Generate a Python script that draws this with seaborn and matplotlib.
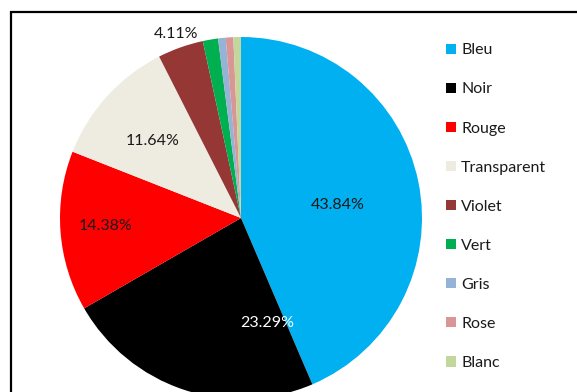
import numpy as np
import matplotlib
matplotlib.use("Agg")
import matplotlib.pyplot as plt
from matplotlib.patches import Rectangle
import seaborn as sns

# Share of each colour (percent)
categories = ["Bleu", "Noir", "Rouge", "Transparent", "Violet", "Vert", "Gris", "Rose", "Blanc"]
shares = [43.84, 23.29, 14.38, 11.64, 4.11, 1.37, 0.68, 0.68, 0.68]
labelled = [True, True, True, True, True, False, False, False, False]
colors = ["#00B0F0", "#000000", "#FF0000", "#EEECE1", "#953735",
          "#00B050", "#95B3D7", "#D99694", "#C3D69B"]
label_colors = ["#1a1a1a", "white", "#1a1a1a", "#1a1a1a", "#1a1a1a"]

# Label placement for each labelled slice: (radius fraction, angle in degrees)
label_pos = [(0.54, 7.7), (0.60, -76.0), (0.75, -176.6), (0.65, 139.0), (1.08, 109.4)]

sns.set_theme(style="white")
plt.rcParams["font.family"] = ["Lato", "DejaVu Sans"]

W, H = 577, 392
fig = plt.figure(figsize=(W / 100, H / 100), dpi=100)
fig.patch.set_facecolor("white")

cx, cy, r = 241, 392 - 218, 181
ax = fig.add_axes([(cx - r) / W, (cy - r) / H, 2 * r / W, 2 * r / H])
palette = sns.color_palette(colors)
wedges, _ = ax.pie(shares, colors=palette, startangle=90, counterclock=False,
                   radius=1.0, wedgeprops=dict(linewidth=0))
ax.set_xlim(-1, 1)
ax.set_ylim(-1, 1)
ax.set_aspect("auto")
ax.axis("off")

k = 0
for val, show in zip(shares, labelled):
    if not show:
        continue
    rad, ang = label_pos[k]
    a = np.deg2rad(ang)
    ax.text(rad * np.cos(a), rad * np.sin(a), f"{val:.2f}%", ha="center", va="center",
            fontsize=11.5, color=label_colors[k], clip_on=False)
    k += 1

leg = fig.legend(wedges, categories, loc="upper left",
                 bbox_to_anchor=(440 / W, 1 - 37 / H), frameon=False,
                 fontsize=11.5, handlelength=0.62, handleheight=0.62,
                 handletextpad=0.3, labelspacing=1.57, borderaxespad=0)
for t in leg.get_texts():
    t.set_color("#1a1a1a")

# Outer chart border
fig.add_artist(Rectangle((11.5 / W, -0.2), 1.2, 1.2 - 11.5 / H, transform=fig.transFigure,
                         fill=False, edgecolor="black", linewidth=1.6))

fig.savefig("out.png", dpi=100)
